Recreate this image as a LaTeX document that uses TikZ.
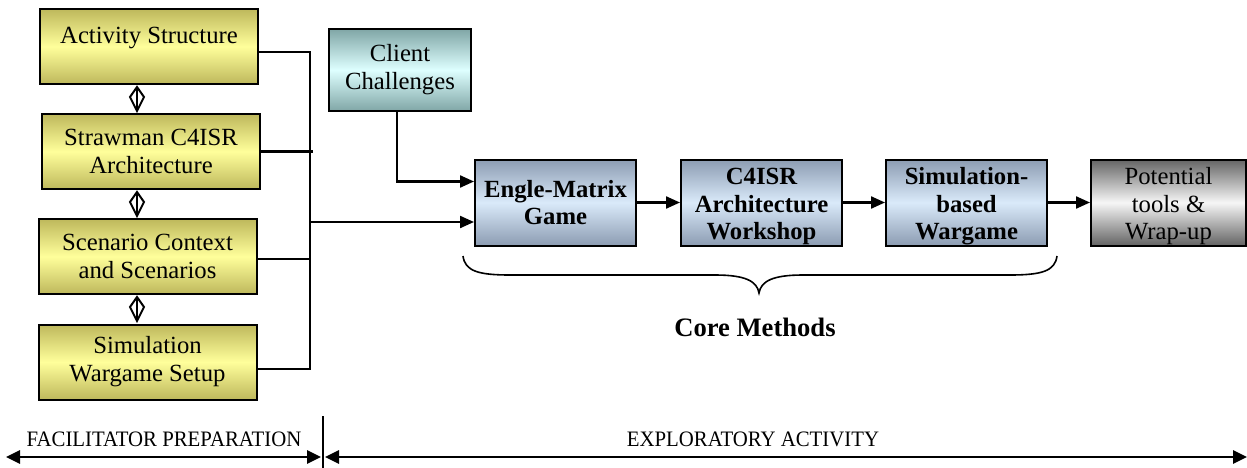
\documentclass[tikz,border=0pt]{standalone}
\usepackage{fontspec}
\setmainfont{Liberation Serif}
\usetikzlibrary{arrows.meta,calc}

\definecolor{prepdark}{RGB}{190,184,92}
\definecolor{preplight}{RGB}{255,255,155}
\definecolor{clientdark}{RGB}{128,166,166}
\definecolor{clientlight}{RGB}{222,255,255}
\definecolor{coredark}{RGB}{140,156,178}
\definecolor{corelight}{RGB}{218,234,250}
\definecolor{wrapdark}{RGB}{100,100,100}
\definecolor{wraplight}{RGB}{246,246,246}

% tall strut that pushes a three-line label a little lower in its box
\newcommand{\lowstrut}{\rule{0pt}{25pt}}

\tikzset{
  box/.style={draw=black, line width=2pt, align=center, inner sep=0pt,
    font=\fontsize{24.7}{28}\selectfont},
  prepbox/.style={box, minimum width=218pt, minimum height=75pt,
    top color=prepdark, bottom color=prepdark, middle color=preplight},
  clientbox/.style={box, minimum width=142pt, minimum height=82pt,
    top color=clientdark, bottom color=clientdark, middle color=clientlight},
  corebox/.style={box, minimum width=161pt, minimum height=86pt,
    font=\fontsize{24.7}{27.5}\selectfont\bfseries,
    top color=coredark, bottom color=coredark, middle color=corelight},
  wrapbox/.style={box, minimum width=155pt, minimum height=86pt,
    font=\fontsize{24.7}{27.5}\selectfont,
    top color=wrapdark, bottom color=wrapdark, middle color=wraplight},
  conn/.style={line width=2.2pt},
  arr/.style={conn, -{Triangle[length=14pt,width=12pt]}},
  link/.style={line width=2pt, line join=miter},
  phase/.style={font=\fontsize{20.8}{22}\selectfont, inner sep=0pt, yscale=1.06},
  span/.style={line width=2.8pt,
    {Triangle[length=14pt,width=13pt]}-{Triangle[length=14pt,width=13pt]}}
}

\begin{document}
\begin{tikzpicture}[x=1pt, y=-1pt]
\useasboundingbox (0,0) rectangle (1247,468);

% preparation boxes
\node[prepbox] (act)  at (149,46.5) {\raisebox{23pt}{Activity Structure}};
\node[prepbox] (straw) at (151,151.5) {Strawman C4ISR\\Architecture};
\node[prepbox] (scen) at (147.5,256.5) {Scenario Context\\and Scenarios};
\node[prepbox] (setup) at (147.5,362) {Simulation\\Wargame Setup};

% diamond links between preparation boxes
\foreach \yc in {99,204,309}{
  \draw[link] (137,\yc-12) -- (144,\yc-2) -- (137,\yc+12) -- (130,\yc-2) -- cycle;
  \draw[link] (137,\yc-12) -- (137,\yc+12);
}

% client input and core methods
\node[clientbox] (client) at (400,70) {Client\\Challenges};
\node[corebox] (engle) at (555.5,202.5) {Engle-Matrix\\Game};
\node[corebox] (arch) at (761.5,202.5) {\lowstrut C4ISR\\Architecture\\Workshop};
\node[corebox] (simw) at (966.5,202.5) {\lowstrut Simulation-\\based\\Wargame};
\node[wrapbox] (wrap) at (1168.5,202.5) {\lowstrut Potential\\tools \&\\Wrap-up};

% collector bus from the preparation boxes
\coordinate (busTop) at (310,52);
\coordinate (busBot) at (310,369);
\coordinate (busOut) at (310,222);
\coordinate (strawEnd) at (313,151.5);
\coordinate (scenIn) at (310,259);
\draw[conn] (act.east |- busTop) -- (busTop) -- (busBot) -- (setup.east |- busBot);
\draw[conn] (straw.east) -- (strawEnd);
\draw[conn] (scen.east |- scenIn) -- (scenIn);
\draw[arr] (busOut) -- (engle.west |- busOut);

% client challenges feed
\draw[arr] ([xshift=-3pt]client.south) |- ($(engle.west)+(0,-21)$);

% core method chain
\draw[arr] (engle) -- (arch);
\draw[arr] (arch) -- (simw);
\draw[arr] (simw) -- (wrap);

% brace under the core methods
\draw[line width=1.6pt] (463,256) .. controls (465,271) and (478,275) .. (510,275)
  -- (715,275) .. controls (745,275) and (757,281) .. (759,293)
  .. controls (761,281) and (773,275) .. (803,275)
  -- (1010,275) .. controls (1042,275) and (1055,271) .. (1057,256);
\node[font=\fontsize{26.6}{30}\selectfont\bfseries] (core) at (755,327) {Core Methods};

% phase timeline
\coordinate (tlLeft) at (6,457);
\coordinate (tlMidL) at (321,457);
\coordinate (tlMidR) at (325,457);
\coordinate (tlRight) at (1247,457);
\coordinate (divTop) at (323,416);
\coordinate (divBot) at (323,468);
\draw[line width=1.6pt] (divTop) -- (divBot);
\draw[span] (tlLeft) -- (tlMidL);
\draw[span] (tlMidR) -- (tlRight);
\node[phase] (prep) at (164,439) {FACILITATOR PREPARATION};
\node[phase] (expl) at (753,439) {EXPLORATORY ACTIVITY};
\end{tikzpicture}
\end{document}
